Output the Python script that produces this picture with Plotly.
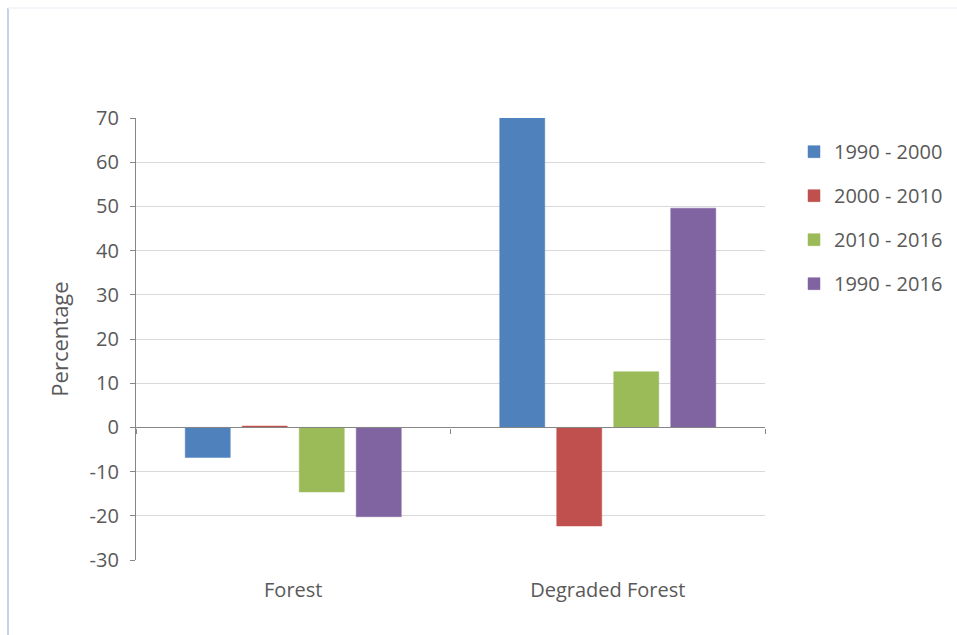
import plotly.graph_objects as go

categories = ["Forest", "Degraded Forest"]
series_names = ["1990 - 2000", "2000 - 2010", "2010 - 2016", "1990 - 2016"]
series_values = {
    "1990 - 2000": [-6.8, 70.0],
    "2000 - 2010": [0.3, -22.3],
    "2010 - 2016": [-14.6, 12.6],
    "1990 - 2016": [-20.2, 49.6],
}
series_colors = ["#4f81bd", "#c0504d", "#9bbb59", "#8064a2"]
y_ticks = [-30, -20, -10, 0, 10, 20, 30, 40, 50, 60, 70]
y_tick_text = [str(v) for v in y_ticks]

W, H = 957, 635
L, R, T, B = 136, 192, 118, 75

FONT = "Open Sans"
TXT = "#595959"
AXIS = "#868686"

fig = go.Figure()
for name, color in zip(series_names, series_colors):
    fig.add_trace(go.Bar(
        x=categories, y=series_values[name], name=name,
        marker=dict(color=color, line=dict(color=color, width=0.5)),
        legendgroup=name,
    ))

# invisible trace carrying the category axis line drawn at y = 0
fig.add_trace(go.Scatter(x=categories, y=[0, 0], xaxis="x2", yaxis="y",
                         mode="lines", line=dict(width=0), showlegend=False,
                         hoverinfo="skip"))

y_min, y_max = y_ticks[0], y_ticks[-1]
zero_pos = (0 - y_min) / (y_max - y_min)

fig.update_layout(
    width=W, height=H,
    margin=dict(l=L, r=R, t=T, b=B, autoexpand=False),
    paper_bgcolor="white", plot_bgcolor="white",
    barmode="group", bargap=0.275, bargroupgap=0.21,
    font=dict(family=FONT, color=TXT, size=20),
    showlegend=True,
    legend=dict(x=(794 - L) / (W - L - R), y=0.968,
                xanchor="left", yanchor="top",
                font=dict(size=20, color=TXT, family=FONT),
                traceorder="grouped", tracegroupgap=15,
                itemwidth=30, bgcolor="rgba(0,0,0,0)"),
    xaxis=dict(type="category", showgrid=False, showline=False, ticks="",
               zeroline=False, tickfont=dict(size=20, color=TXT),
               ticklabelstandoff=16, range=[-0.5, 1.5], automargin=False),
    xaxis2=dict(type="category", overlaying="x", anchor="free", matches="x",
                position=zero_pos, side="bottom",
                showline=True, linecolor=AXIS, linewidth=1.3,
                ticks="outside", tickson="boundaries", ticklen=5,
                tickcolor=AXIS, showticklabels=False, showgrid=False,
                zeroline=False, automargin=False),
    yaxis=dict(range=[y_min, y_max], tickvals=y_ticks, ticktext=y_tick_text,
               showgrid=True, gridcolor="#d9d9d9", gridwidth=1.3,
               zeroline=False, showline=True, linecolor=AXIS, linewidth=1.3,
               ticks="outside", ticklen=5, tickcolor=AXIS,
               tickfont=dict(size=20, color=TXT), ticklabelstandoff=7,
               automargin=False,
               title=dict(text="Percentage", font=dict(size=22, color=TXT),
                          standoff=14)),
)

# chart frame edges
fig.add_shape(type="line", xref="paper", yref="paper",
              x0=-(L - 8) / (W - L - R), x1=-(L - 8) / (W - L - R),
              y0=-B / (H - T - B), y1=1 + (T - 8) / (H - T - B),
              line=dict(color="#c5d3e8", width=2))
fig.add_shape(type="line", xref="paper", yref="paper",
              x0=-(L - 8) / (W - L - R), x1=1 + R / (W - L - R),
              y0=1 + (T - 8) / (H - T - B), y1=1 + (T - 8) / (H - T - B),
              line=dict(color="#eef2f7", width=1.5))

fig.write_html("out.html")
